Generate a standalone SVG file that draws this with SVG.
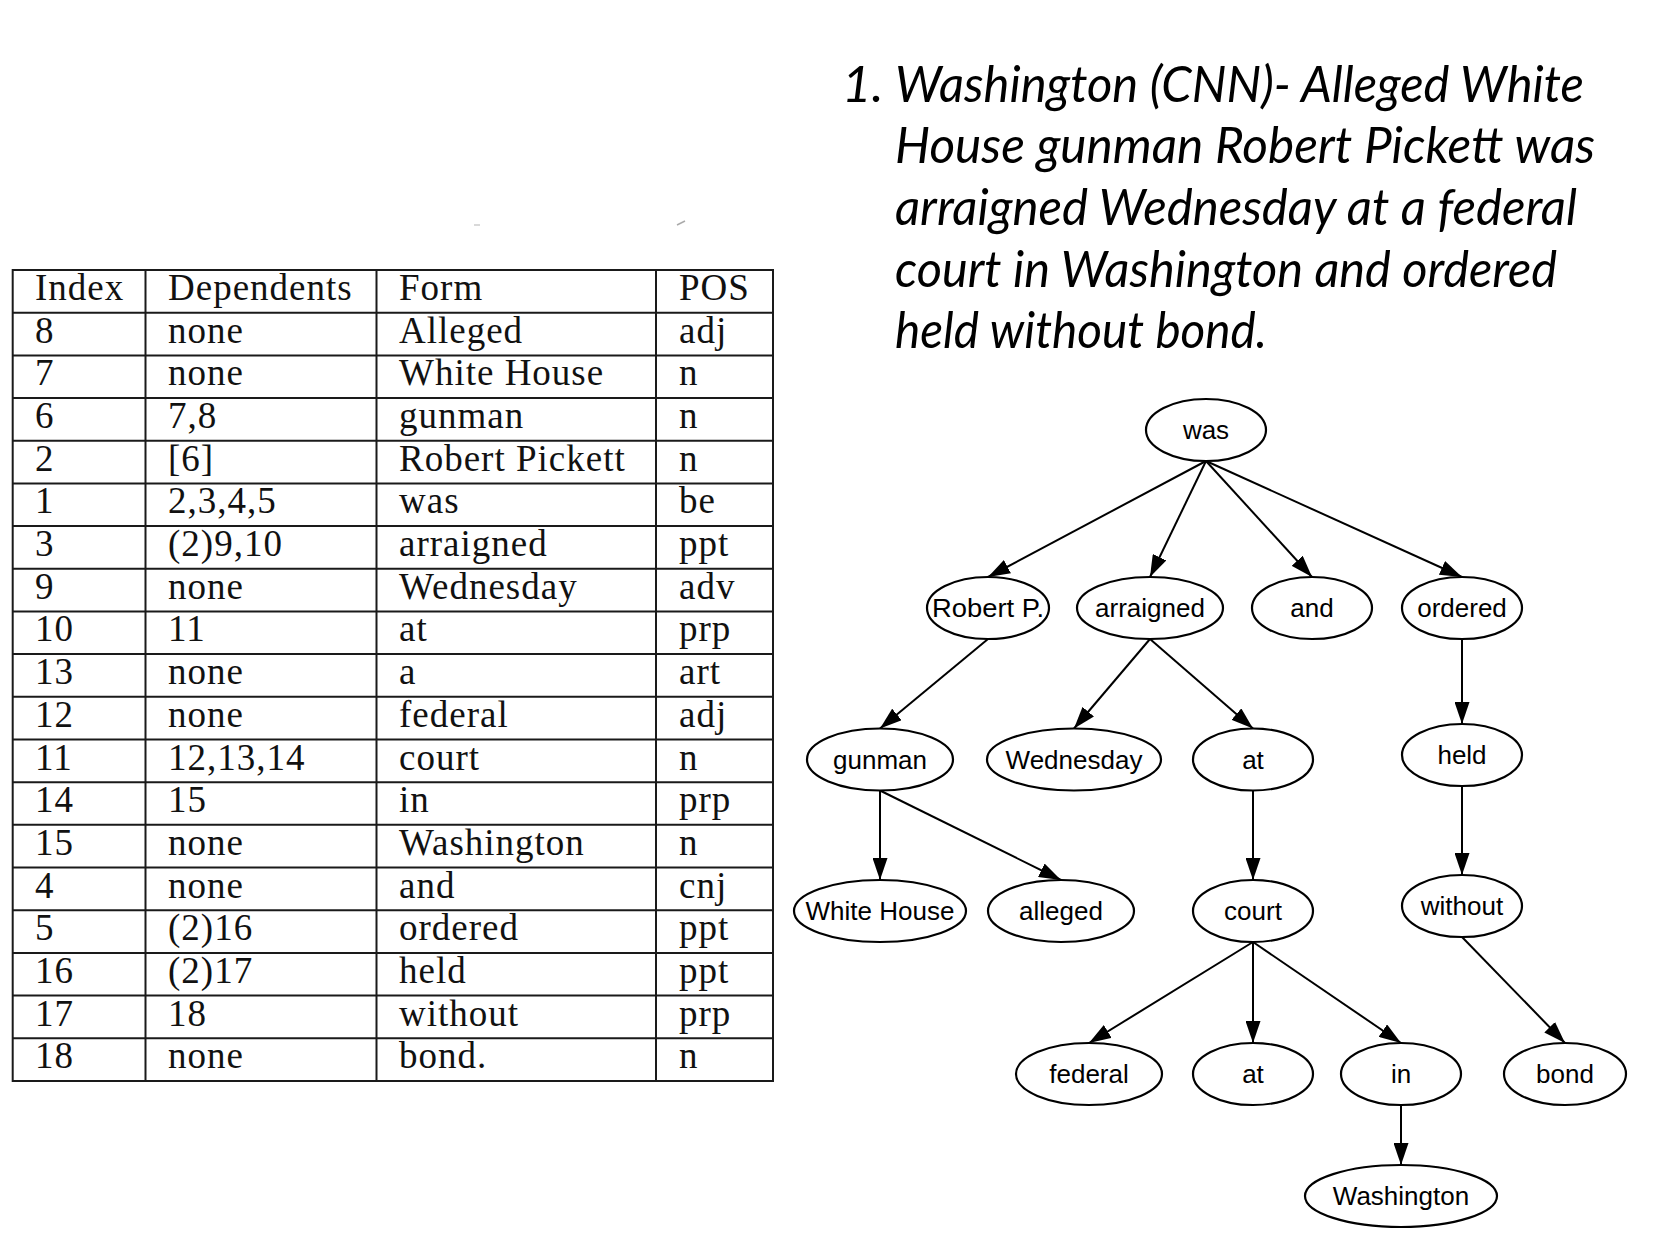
<svg xmlns="http://www.w3.org/2000/svg" width="1654" height="1250" viewBox="0 0 1654 1250">
<style>
.tl{stroke:#1a1a1a;stroke-width:2;fill:none}
.tt{font-family:"Liberation Serif","Times New Roman",serif;font-size:37px;letter-spacing:1px;fill:#111}
.ti{font-family:Lato,"Open Sans",sans-serif;font-style:italic;font-size:51px;fill:#000}
.nd ellipse{fill:#fff;stroke:#000;stroke-width:2.2}
.nd text{font-family:"Liberation Sans",Arial,sans-serif;font-size:26px;text-anchor:middle;fill:#000}
.ed line{stroke:#000;stroke-width:2;marker-end:url(#arr)}
</style>
<defs>
<marker id="arr" markerUnits="userSpaceOnUse" markerWidth="22" markerHeight="15" refX="22" refY="7.5" orient="auto">
<path d="M0,0 L22,7.5 L0,15 z" fill="#000"/>
</marker>
</defs>
<rect width="1654" height="1250" fill="#fff"/>

<!-- faint marks -->
<line x1="474" y1="225" x2="480" y2="225" stroke="#ccc" stroke-width="1.5"/>
<line x1="677" y1="225" x2="685" y2="221" stroke="#aaa" stroke-width="1.5"/>

<!-- title -->
<g id="title">
<text class="ti" x="842" y="102">1.</text>
<text class="ti" x="895" y="102" textLength="689" lengthAdjust="spacingAndGlyphs">Washington (CNN)- Alleged White</text>
<text class="ti" x="895" y="163" textLength="700" lengthAdjust="spacingAndGlyphs">House gunman Robert Pickett was</text>
<text class="ti" x="895" y="225" textLength="682" lengthAdjust="spacingAndGlyphs">arraigned Wednesday at a federal</text>
<text class="ti" x="895" y="287" textLength="662" lengthAdjust="spacingAndGlyphs">court in Washington and ordered</text>
<text class="ti" x="895" y="348" textLength="372" lengthAdjust="spacingAndGlyphs">held without bond.</text>
</g>

<!-- table -->
<g id="table">
<rect class="tl" x="12.7" y="270" width="760.3" height="811"/>
<line class="tl" x1="145.5" y1="270" x2="145.5" y2="1081"/>
<line class="tl" x1="376.5" y1="270" x2="376.5" y2="1081"/>
<line class="tl" x1="656" y1="270" x2="656" y2="1081"/>
<g class="tl">
<line x1="12.7" y1="312.7" x2="773" y2="312.7"/>
<line x1="12.7" y1="355.4" x2="773" y2="355.4"/>
<line x1="12.7" y1="398" x2="773" y2="398"/>
<line x1="12.7" y1="440.7" x2="773" y2="440.7"/>
<line x1="12.7" y1="483.4" x2="773" y2="483.4"/>
<line x1="12.7" y1="526.1" x2="773" y2="526.1"/>
<line x1="12.7" y1="568.8" x2="773" y2="568.8"/>
<line x1="12.7" y1="611.4" x2="773" y2="611.4"/>
<line x1="12.7" y1="654.1" x2="773" y2="654.1"/>
<line x1="12.7" y1="696.8" x2="773" y2="696.8"/>
<line x1="12.7" y1="739.5" x2="773" y2="739.5"/>
<line x1="12.7" y1="782.2" x2="773" y2="782.2"/>
<line x1="12.7" y1="824.8" x2="773" y2="824.8"/>
<line x1="12.7" y1="867.5" x2="773" y2="867.5"/>
<line x1="12.7" y1="910.2" x2="773" y2="910.2"/>
<line x1="12.7" y1="952.9" x2="773" y2="952.9"/>
<line x1="12.7" y1="995.6" x2="773" y2="995.6"/>
<line x1="12.7" y1="1038.3" x2="773" y2="1038.3"/>
</g>
<g class="tt">
<text x="35" y="300">Index</text><text x="168" y="300">Dependents</text><text x="399" y="300">Form</text><text x="679" y="300">POS</text>
<text x="35" y="342.7">8</text><text x="168" y="342.7">none</text><text x="399" y="342.7">Alleged</text><text x="679" y="342.7">adj</text>
<text x="35" y="385.4">7</text><text x="168" y="385.4">none</text><text x="399" y="385.4">White House</text><text x="679" y="385.4">n</text>
<text x="35" y="428">6</text><text x="168" y="428">7,8</text><text x="399" y="428">gunman</text><text x="679" y="428">n</text>
<text x="35" y="470.7">2</text><text x="168" y="470.7">[6]</text><text x="399" y="470.7">Robert Pickett</text><text x="679" y="470.7">n</text>
<text x="35" y="513.4">1</text><text x="168" y="513.4">2,3,4,5</text><text x="399" y="513.4">was</text><text x="679" y="513.4">be</text>
<text x="35" y="556.1">3</text><text x="168" y="556.1">(2)9,10</text><text x="399" y="556.1">arraigned</text><text x="679" y="556.1">ppt</text>
<text x="35" y="598.8">9</text><text x="168" y="598.8">none</text><text x="399" y="598.8">Wednesday</text><text x="679" y="598.8">adv</text>
<text x="35" y="641.4">10</text><text x="168" y="641.4">11</text><text x="399" y="641.4">at</text><text x="679" y="641.4">prp</text>
<text x="35" y="684.1">13</text><text x="168" y="684.1">none</text><text x="399" y="684.1">a</text><text x="679" y="684.1">art</text>
<text x="35" y="726.8">12</text><text x="168" y="726.8">none</text><text x="399" y="726.8">federal</text><text x="679" y="726.8">adj</text>
<text x="35" y="769.5">11</text><text x="168" y="769.5">12,13,14</text><text x="399" y="769.5">court</text><text x="679" y="769.5">n</text>
<text x="35" y="812.2">14</text><text x="168" y="812.2">15</text><text x="399" y="812.2">in</text><text x="679" y="812.2">prp</text>
<text x="35" y="854.8">15</text><text x="168" y="854.8">none</text><text x="399" y="854.8">Washington</text><text x="679" y="854.8">n</text>
<text x="35" y="897.5">4</text><text x="168" y="897.5">none</text><text x="399" y="897.5">and</text><text x="679" y="897.5">cnj</text>
<text x="35" y="940.2">5</text><text x="168" y="940.2">(2)16</text><text x="399" y="940.2">ordered</text><text x="679" y="940.2">ppt</text>
<text x="35" y="982.9">16</text><text x="168" y="982.9">(2)17</text><text x="399" y="982.9">held</text><text x="679" y="982.9">ppt</text>
<text x="35" y="1025.6">17</text><text x="168" y="1025.6">18</text><text x="399" y="1025.6">without</text><text x="679" y="1025.6">prp</text>
<text x="35" y="1068.3">18</text><text x="168" y="1068.3">none</text><text x="399" y="1068.3">bond.</text><text x="679" y="1068.3">n</text>
</g>
</g>

<!-- connectors -->
<g id="edges" class="ed">
<line x1="1206" y1="461" x2="988" y2="577"/>
<line x1="1206" y1="461" x2="1150" y2="577"/>
<line x1="1206" y1="461" x2="1312" y2="577"/>
<line x1="1206" y1="461" x2="1462" y2="577"/>
<line x1="988" y1="639" x2="880" y2="728.5"/>
<line x1="1150" y1="639" x2="1074" y2="728.5"/>
<line x1="1150" y1="639" x2="1253" y2="728.5"/>
<line x1="1462" y1="639" x2="1462" y2="724"/>
<line x1="880" y1="790.5" x2="880" y2="880"/>
<line x1="880" y1="790.5" x2="1061" y2="880"/>
<line x1="1253" y1="790.5" x2="1253" y2="880"/>
<line x1="1462" y1="786" x2="1462" y2="875"/>
<line x1="1253" y1="942" x2="1089" y2="1043"/>
<line x1="1253" y1="942" x2="1253" y2="1043"/>
<line x1="1253" y1="942" x2="1401" y2="1043"/>
<line x1="1462" y1="937" x2="1565" y2="1043"/>
<line x1="1401" y1="1105" x2="1401" y2="1165"/>
</g>

<!-- nodes -->
<g id="n-was" class="nd"><ellipse cx="1206" cy="430" rx="60" ry="31"/><text x="1206" y="439">was</text></g>
<g id="n-robert" class="nd"><ellipse cx="988" cy="608" rx="61" ry="31"/><text x="988" y="617" textLength="112" lengthAdjust="spacingAndGlyphs">Robert P.</text></g>
<g id="n-arraigned" class="nd"><ellipse cx="1150" cy="608" rx="73" ry="31"/><text x="1150" y="617">arraigned</text></g>
<g id="n-and" class="nd"><ellipse cx="1312" cy="608" rx="60" ry="31"/><text x="1312" y="617">and</text></g>
<g id="n-ordered" class="nd"><ellipse cx="1462" cy="608" rx="60" ry="31"/><text x="1462" y="617">ordered</text></g>
<g id="n-gunman" class="nd"><ellipse cx="880" cy="759.5" rx="73" ry="31"/><text x="880" y="768.5">gunman</text></g>
<g id="n-wednesday" class="nd"><ellipse cx="1074" cy="759.5" rx="87" ry="31"/><text x="1074" y="768.5">Wednesday</text></g>
<g id="n-at1" class="nd"><ellipse cx="1253" cy="759.5" rx="60" ry="31"/><text x="1253" y="768.5">at</text></g>
<g id="n-held" class="nd"><ellipse cx="1462" cy="755" rx="60" ry="31"/><text x="1462" y="764">held</text></g>
<g id="n-whitehouse" class="nd"><ellipse cx="880" cy="911" rx="86" ry="31"/><text x="880" y="920">White House</text></g>
<g id="n-alleged" class="nd"><ellipse cx="1061" cy="911" rx="73" ry="31"/><text x="1061" y="920">alleged</text></g>
<g id="n-court" class="nd"><ellipse cx="1253" cy="911" rx="60" ry="31"/><text x="1253" y="920">court</text></g>
<g id="n-without" class="nd"><ellipse cx="1462" cy="906" rx="60" ry="31"/><text x="1462" y="915">without</text></g>
<g id="n-federal" class="nd"><ellipse cx="1089" cy="1074" rx="73" ry="31"/><text x="1089" y="1083">federal</text></g>
<g id="n-at2" class="nd"><ellipse cx="1253" cy="1074" rx="60" ry="31"/><text x="1253" y="1083">at</text></g>
<g id="n-in" class="nd"><ellipse cx="1401" cy="1074" rx="60" ry="31"/><text x="1401" y="1083">in</text></g>
<g id="n-bond" class="nd"><ellipse cx="1565" cy="1074" rx="61" ry="31"/><text x="1565" y="1083">bond</text></g>
<g id="n-washington" class="nd"><ellipse cx="1401" cy="1196" rx="96" ry="31"/><text x="1401" y="1205">Washington</text></g>
</svg>
